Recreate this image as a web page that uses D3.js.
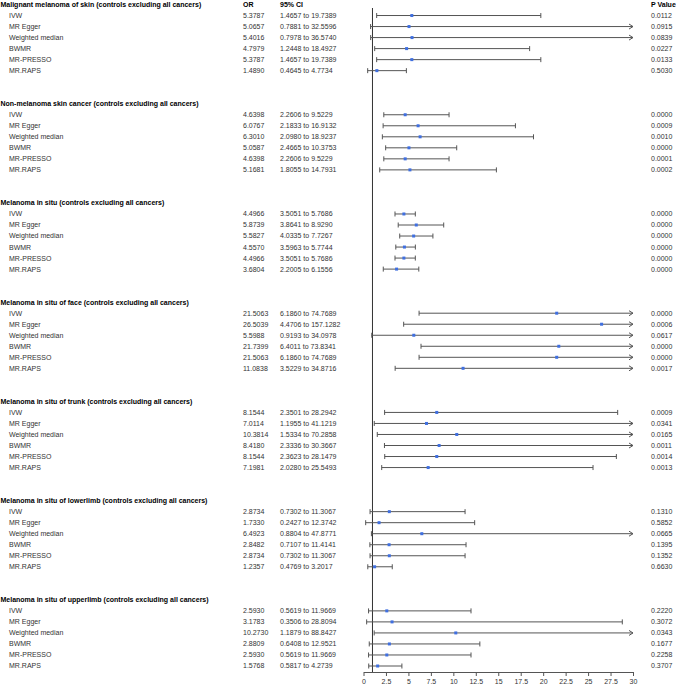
<!DOCTYPE html>
<html>
<head>
<meta charset="utf-8">
<script src="https://cdn.jsdelivr.net/npm/d3@7"></script>
<style>
  body { margin: 0; background: #fff; }
  text { font-family: "Liberation Sans", Arial, sans-serif; font-size: 7px; fill: #333; }
  .title, .head { font-weight: bold; fill: #000; }
</style>
</head>
<body>
<svg width="676" height="687"></svg>
<script>
// groups (outcomes) and MR methods
var groups = [
  "Malignant melanoma of skin (controls excluding all cancers)",
  "Non-melanoma skin cancer (controls excluding all cancers)",
  "Melanoma in situ (controls excluding all cancers)",
  "Melanoma in situ of face (controls excluding all cancers)",
  "Melanoma in situ of trunk (controls excluding all cancers)",
  "Melanoma in situ of lowerlimb (controls excluding all cancers)",
  "Melanoma in situ of upperlimb (controls excluding all cancers)"
];
var methods = ["IVW", "MR Egger", "Weighted median", "BWMR", "MR-PRESSO", "MR.RAPS"];

// one row per group, one value per method
var orValues = [
  [5.3787, 5.0657, 5.4016, 4.7979, 5.3787, 1.4890],
  [4.6398, 6.0767, 6.3010, 5.0587, 4.6398, 5.1681],
  [4.4966, 5.8739, 5.5827, 4.5570, 4.4966, 3.6804],
  [21.5063, 26.5039, 5.5988, 21.7399, 21.5063, 11.0838],
  [8.1544, 7.0114, 10.3814, 8.4180, 8.1544, 7.1981],
  [2.8734, 1.7330, 6.4923, 2.8482, 2.8734, 1.2357],
  [2.5930, 3.1783, 10.2730, 2.8809, 2.5930, 1.5768]
];
var ciLow = [
  [1.4657, 0.7881, 0.7978, 1.2448, 1.4657, 0.4645],
  [2.2606, 2.1833, 2.0980, 2.4665, 2.2606, 1.8055],
  [3.5051, 3.8641, 4.0335, 3.5963, 3.5051, 2.2005],
  [6.1860, 4.4706, 0.9193, 6.4011, 6.1860, 3.5229],
  [2.3501, 1.1955, 1.5334, 2.3336, 2.3623, 2.0280],
  [0.7302, 0.2427, 0.8804, 0.7107, 0.7302, 0.4769],
  [0.5619, 0.3506, 1.1879, 0.6408, 0.5619, 0.5817]
];
var ciHigh = [
  [19.7389, 32.5596, 36.5740, 18.4927, 19.7389, 4.7734],
  [9.5229, 16.9132, 18.9237, 10.3753, 9.5229, 14.7931],
  [5.7686, 8.9290, 7.7267, 5.7744, 5.7686, 6.1556],
  [74.7689, 157.1282, 34.0978, 73.8341, 74.7689, 34.8716],
  [28.2942, 41.1219, 70.2858, 30.3667, 28.1479, 25.5493],
  [11.3067, 12.3742, 47.8771, 11.4141, 11.3067, 3.2017],
  [11.9669, 28.8094, 88.8427, 12.9521, 11.9669, 4.2739]
];
var pValues = [
  ["0.0112", "0.0915", "0.0839", "0.0227", "0.0133", "0.5030"],
  ["0.0000", "0.0009", "0.0010", "0.0000", "0.0001", "0.0002"],
  ["0.0000", "0.0000", "0.0000", "0.0000", "0.0000", "0.0000"],
  ["0.0000", "0.0006", "0.0617", "0.0000", "0.0000", "0.0017"],
  ["0.0009", "0.0341", "0.0165", "0.0011", "0.0014", "0.0013"],
  ["0.1310", "0.5852", "0.0665", "0.1395", "0.1352", "0.6630"],
  ["0.2220", "0.3072", "0.0343", "0.1677", "0.2258", "0.3707"]
];
var xTicks = [0, 2.5, 5, 7.5, 10, 12.5, 15, 17.5, 20, 22.5, 25, 27.5, 30];

var svg = d3.select("svg");

// x scale for the forest plot, y scale in row slots (9 slots per group)
var xMax = 30;
var x = d3.scaleLinear().domain([0, xMax]).range([363.5, 633]);
var y = d3.scaleLinear().domain([0, 60]).range([4.5, 666]);
var axisY = 672;

// flatten into rows
var rows = [];
groups.forEach(function(g, gi) {
  methods.forEach(function(m, mi) {
    rows.push({
      method: m, slot: gi * 9 + mi + 1,
      or: orValues[gi][mi], lo: ciLow[gi][mi], hi: ciHigh[gi][mi], p: pValues[gi][mi]
    });
  });
});

// headers
svg.append("text").attr("class", "head").attr("x", 243).attr("y", y(0)).attr("dy", ".35em").text("OR");
svg.append("text").attr("class", "head").attr("x", 280).attr("y", y(0)).attr("dy", ".35em").text("95% CI");
svg.append("text").attr("class", "head").attr("x", 651).attr("y", y(0)).attr("dy", ".35em").text("P Value");

// group titles
svg.selectAll(".title")
    .data(groups)
  .enter().append("text")
    .attr("class", "title")
    .attr("x", 0.5)
    .attr("y", function(d, i) { return y(i * 9); })
    .attr("dy", ".35em")
    .text(function(d) { return d; });

// reference line at OR = 1
svg.append("line")
    .attr("x1", x(1)).attr("x2", x(1))
    .attr("y1", 8).attr("y2", axisY)
    .attr("stroke", "#333").attr("stroke-width", 1);

var row = svg.selectAll(".row")
    .data(rows)
  .enter().append("g")
    .attr("class", "row")
    .attr("transform", function(d) { return "translate(0," + y(d.slot) + ")"; });

row.append("text").attr("x", 9).attr("dy", ".35em").text(function(d) { return d.method; });
row.append("text").attr("x", 243).attr("dy", ".35em").text(function(d) { return d.or.toFixed(4); });
row.append("text").attr("x", 280).attr("dy", ".35em")
    .text(function(d) { return d.lo.toFixed(4) + " to " + d.hi.toFixed(4); });
row.append("text").attr("x", 651).attr("dy", ".35em").text(function(d) { return d.p; });

// CI lines
row.append("line")
    .attr("x1", function(d) { return x(d.lo); })
    .attr("x2", function(d) { return x(Math.min(d.hi, xMax)); })
    .attr("stroke", "#555").attr("stroke-width", 1);

// lower caps
row.append("line")
    .attr("x1", function(d) { return x(d.lo); })
    .attr("x2", function(d) { return x(d.lo); })
    .attr("y1", -2.5).attr("y2", 2.5)
    .attr("stroke", "#555");

// upper caps or arrows when clipped
row.filter(function(d) { return d.hi <= xMax; }).append("line")
    .attr("x1", function(d) { return x(d.hi); })
    .attr("x2", function(d) { return x(d.hi); })
    .attr("y1", -2.5).attr("y2", 2.5)
    .attr("stroke", "#555");

row.filter(function(d) { return d.hi > xMax; }).append("path")
    .attr("d", function() {
      var ax = x(xMax);
      return "M" + (ax - 4) + ",-2.5L" + ax + ",0L" + (ax - 4) + ",2.5";
    })
    .attr("fill", "none")
    .attr("stroke", "#555");

// point estimates
row.append("rect")
    .attr("x", function(d) { return x(d.or) - 1.5; })
    .attr("y", -1.5)
    .attr("width", 3).attr("height", 3)
    .attr("fill", "#3f6fe0");

// x axis
var axis = svg.append("g")
    .attr("transform", "translate(0," + axisY + ")")
    .call(d3.axisBottom(x).tickValues(xTicks).tickSize(4).tickSizeOuter(0).tickPadding(3)
      .tickFormat(function(d) { return d; }));
axis.select(".domain").attr("stroke", "#555");
axis.selectAll(".tick line").attr("stroke", "#555");
axis.selectAll(".tick text").attr("fill", "#333").style("font-size", "7px")
    .style("font-family", "'Liberation Sans', Arial, sans-serif");
</script>
</body>
</html>
